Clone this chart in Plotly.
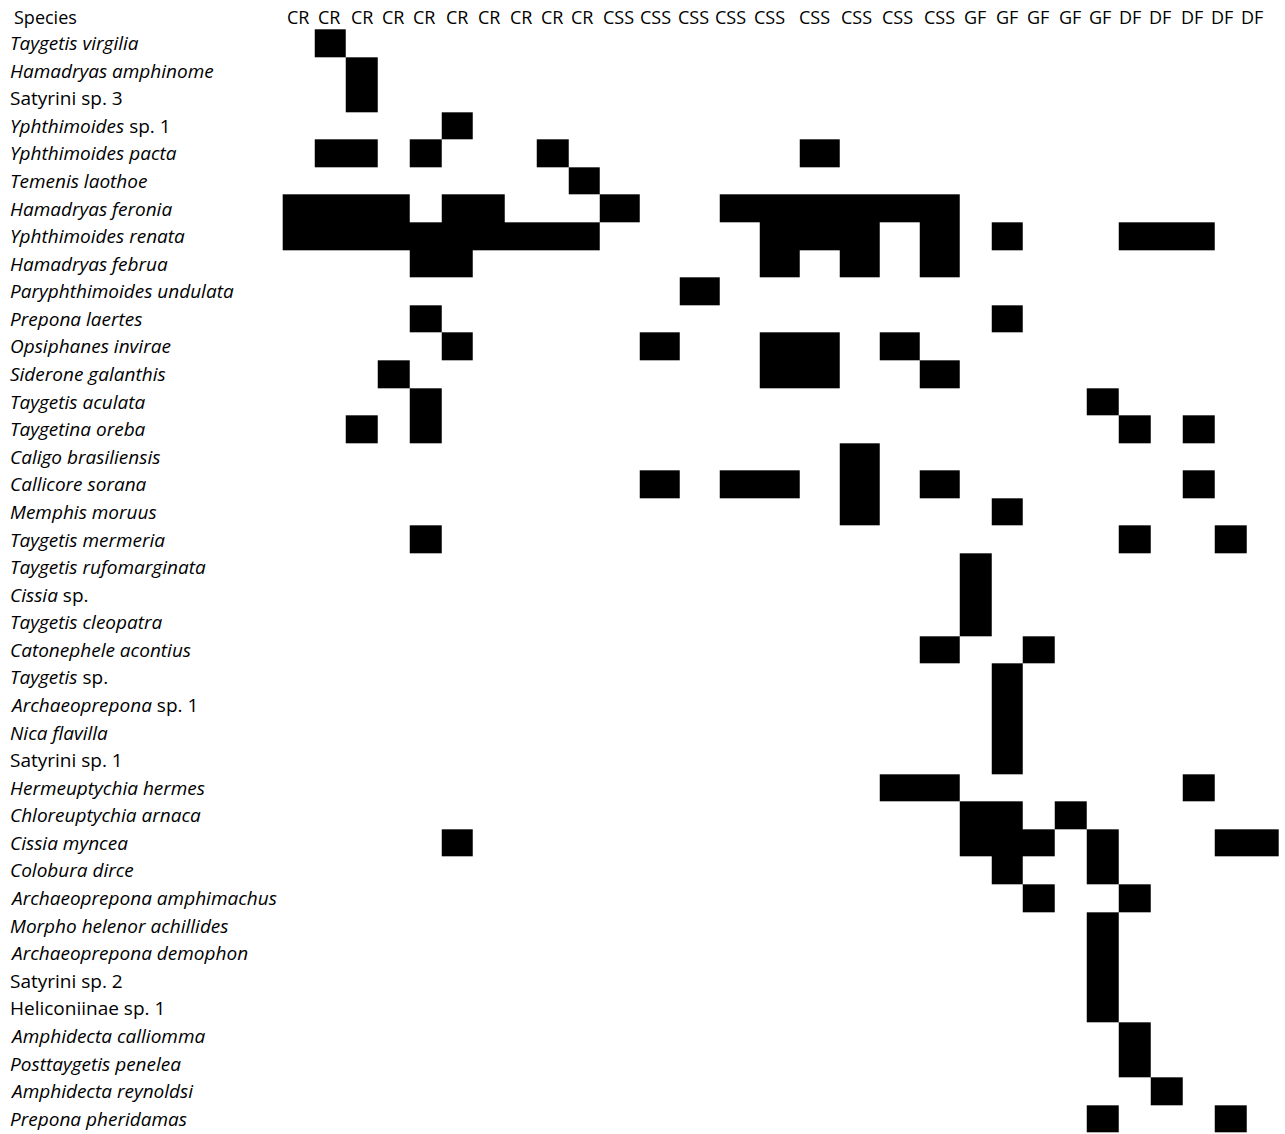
import numpy as np
import plotly.graph_objects as go

# Sampling sites (columns) grouped by habitat type
habitats = ["CR"] * 10 + ["CSS"] * 9 + ["GF"] * 5 + ["DF"] * 5

# Species (rows, top to bottom); italics mark genus/species names
species = [
    "<i>Taygetis virgilia</i>",
    "<i>Hamadryas amphinome</i>",
    "Satyrini sp. 3",
    "<i>Yphthimoides</i> sp. 1",
    "<i>Yphthimoides pacta</i>",
    "<i>Temenis laothoe</i>",
    "<i>Hamadryas feronia</i>",
    "<i>Yphthimoides renata</i>",
    "<i>Hamadryas februa</i>",
    "<i>Paryphthimoides undulata</i>",
    "<i>Prepona laertes</i>",
    "<i>Opsiphanes invirae</i>",
    "<i>Siderone galanthis</i>",
    "<i>Taygetis aculata</i>",
    "<i>Taygetina oreba</i>",
    "<i>Caligo brasiliensis</i>",
    "<i>Callicore sorana</i>",
    "<i>Memphis moruus</i>",
    "<i>Taygetis mermeria</i>",
    "<i>Taygetis rufomarginata</i>",
    "<i>Cissia</i> sp.",
    "<i>Taygetis cleopatra</i>",
    "<i>Catonephele acontius</i>",
    "<i>Taygetis</i> sp.",
    "<i>Archaeoprepona</i> sp. 1",
    "<i>Nica flavilla</i>",
    "Satyrini sp. 1",
    "<i>Hermeuptychia hermes</i>",
    "<i>Chloreuptychia arnaca</i>",
    "<i>Cissia myncea</i>",
    "<i>Colobura dirce</i>",
    "<i>Archaeoprepona amphimachus</i>",
    "<i>Morpho helenor achillides</i>",
    "<i>Archaeoprepona demophon</i>",
    "Satyrini sp. 2",
    "Heliconiinae sp. 1",
    "<i>Amphidecta calliomma</i>",
    "<i>Posttaygetis penelea</i>",
    "<i>Amphidecta reynoldsi</i>",
    "<i>Prepona pheridamas</i>",
]

# Sites (1-based) where each species was recorded
presence = [
    [2],
    [3],
    [3],
    [6],
    [2, 3, 5, 9, 16],
    [10],
    [1, 2, 3, 4, 6, 7, 11, 14, 15, 16, 17, 18, 19],
    [1, 2, 3, 4, 5, 6, 7, 8, 9, 10, 15, 16, 17, 19, 21, 25, 26, 27],
    [5, 6, 15, 17, 19],
    [13],
    [5, 21],
    [6, 12, 15, 16, 18],
    [4, 15, 16, 19],
    [5, 24],
    [3, 5, 25, 27],
    [17],
    [12, 14, 15, 17, 19, 27],
    [17, 21],
    [5, 25, 28],
    [20],
    [20],
    [20],
    [19, 22],
    [21],
    [21],
    [21],
    [21],
    [18, 19, 27],
    [20, 21, 23],
    [6, 20, 21, 22, 24, 28, 29],
    [21, 24],
    [22, 25],
    [24],
    [24],
    [24],
    [24],
    [25],
    [25],
    [26],
    [24, 28],
]

# Presence/absence matrix (1 = present, None = absent)
n_rows, n_cols = len(species), len(habitats)
z = np.full((n_rows, n_cols), np.nan)
for i, sites in enumerate(presence):
    for s in sites:
        z[i, s - 1] = 1
z_list = [[None if np.isnan(v) else 1 for v in row] for row in z]

# Cell geometry (pixel-like axis units); CSS columns are drawn wider
col_width = {"CR": 31.73, "CSS": 39.93, "GF": 31.9, "DF": 31.9}
x0 = 282.7
x_edges = [x0]
for h in habitats:
    x_edges.append(x_edges[-1] + col_width[h])
row_h = 27.58
y0 = 29.3
y_edges = [y0 + row_h * k for k in range(n_rows + 1)]
row_centers = [(y_edges[k] + y_edges[k + 1]) / 2 for k in range(n_rows)]

# Column header label positions
header_x = [298.3, 328.5, 361.7, 393.3, 424, 457.3, 489, 520.7, 552.3, 582.3,
            618.7, 655.7, 693.3, 730.7, 769, 814, 856, 897, 939,
            975, 1007, 1038, 1070, 1100,
            1130, 1160, 1192, 1222, 1252]
header_y = 17

FONT = "Open Sans"
FSIZE = 19
HEADER_SIZE = 18

fig = go.Figure()
fig.add_trace(go.Heatmap(
    z=z_list, x=x_edges, y=y_edges,
    colorscale=[[0, "black"], [1, "black"]],
    zmin=0, zmax=1, showscale=False, hoverongaps=False,
))

annotations = []
annotations.append(dict(x=12, y=header_y, text="Species", xanchor="left", yanchor="middle",
                        showarrow=False, font=dict(family=FONT, size=HEADER_SIZE, color="black")))
for hx, lab in zip(header_x, habitats):
    annotations.append(dict(x=hx, y=header_y, text=lab, xanchor="center", yanchor="middle",
                            showarrow=False, font=dict(family=FONT, size=HEADER_SIZE, color="black")))
for yc, name in zip(row_centers, species):
    annotations.append(dict(x=8, y=yc, text=name, xanchor="left", yanchor="middle",
                            showarrow=False, font=dict(family=FONT, size=FSIZE, color="black")))

fig.update_layout(
    width=1285, height=1134,
    margin=dict(l=0, r=0, t=0, b=0),
    paper_bgcolor="white", plot_bgcolor="white",
    xaxis=dict(range=[0, 1285], visible=False, fixedrange=True),
    yaxis=dict(range=[1134, 0], visible=False, fixedrange=True),
    annotations=annotations,
    showlegend=False,
)

fig.write_html("out.html")
